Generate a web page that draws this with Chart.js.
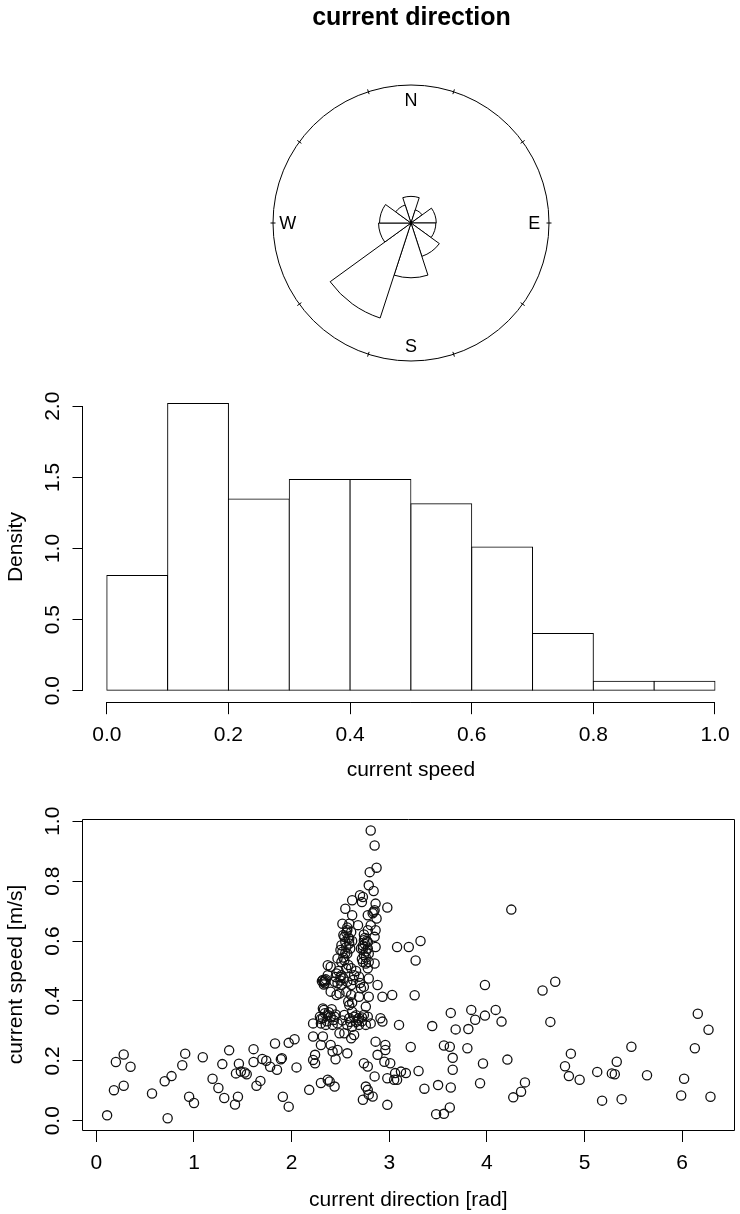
<!DOCTYPE html>
<html>
<head>
<meta charset="utf-8">
<title>current direction</title>
<script src="https://cdn.jsdelivr.net/npm/chart.js@4.4.0/dist/chart.umd.min.js"></script>
<style>
  html, body { margin: 0; padding: 0; background: #fff; }
  #page { position: relative; width: 740px; height: 1214px; }
  .panel { position: absolute; left: 0; width: 740px; }
</style>
</head>
<body>
<div id="page">
  <div class="panel" style="top:0;height:370px"><canvas id="rose"></canvas></div>
  <div class="panel" style="top:370px;height:420px"><canvas id="hist"></canvas></div>
  <div class="panel" style="top:790px;height:424px"><canvas id="scatter"></canvas></div>
</div>
<script>
// rose diagram: 10 sectors of 36deg, first one centred on north
const roseSectors = ['0°', '36°', '72°', '108°', '144°', '180°', '216°', '252°', '288°', '324°'];
const roseRadius = [0.193, 0.100, 0.183, 0.180, 0.254, 0.397, 0.724, 0.235, 0.228, 0.137]; // relative to outer circle
const roseTickAngles = [18, 54, 90, 126, 162, 198, 234, 270, 306, 342];
const compassLabels = ['N', 'E', 'S', 'W'];
const compassAngles = [0, 90, 180, 270];

// histogram of current speed
const speedBinMids = [0.05, 0.15, 0.25, 0.35, 0.45, 0.55, 0.65, 0.75, 0.85, 0.95];
const speedDensity = [0.81, 2.02, 1.347, 1.485, 1.485, 1.314, 1.01, 0.403, 0.067, 0.067];
const histXTicks = [0, 0.2, 0.4, 0.6, 0.8, 1.0];
const histYTicks = [0, 0.5, 1.0, 1.5, 2.0];

// scatter: direction [rad] vs speed [m/s]
const direction = [
  // low speeds, 0-2 rad
  0.11, 0.18, 0.20, 0.28, 0.28, 0.35, 0.57, 0.70, 0.73, 0.77,
  0.88, 0.91, 0.95, 1.00, 1.09, 1.19, 1.25, 1.29, 1.31, 1.36,
  1.43, 1.42, 1.45, 1.46, 1.48, 1.52, 1.54, 1.61, 1.61, 1.64,
  1.68, 1.70, 1.74, 1.78, 1.83, 1.85, 1.89, 1.90, 1.91, 1.97,
  1.97, 2.03, 2.05,
  // main cluster 2.2-3.3 rad
  2.81, 2.85, 2.80, 2.87, 2.79, 2.84, 2.70, 2.73, 2.62, 2.72,
  2.55, 2.86, 2.84, 2.85, 2.83, 2.98, 2.62, 2.78, 2.52, 2.59,
  2.68, 2.87, 2.57, 2.61, 2.81, 2.78, 2.86, 2.54, 2.59, 2.74,
  2.78, 2.85, 2.51, 2.56, 2.59, 2.73, 2.78, 2.52, 2.57, 2.74,
  2.79, 2.86, 3.08, 3.20, 3.32, 2.47, 2.51, 2.54, 2.73, 2.76,
  2.85, 3.27, 2.37, 2.40, 2.56, 2.61, 2.78, 2.37, 2.46, 2.51,
  2.64, 2.69, 2.79, 2.32, 2.33, 2.34, 2.44, 2.47, 2.51, 2.57,
  2.61, 2.71, 2.74, 2.88, 2.40, 2.46, 2.49, 2.56, 2.61, 2.69,
  2.79, 2.93, 3.03, 3.26, 2.59, 2.62, 2.76, 2.32, 2.34, 2.29,
  2.32, 2.37, 2.40, 2.44, 2.30, 2.35, 2.42, 2.47, 2.54, 2.59,
  2.64, 2.69, 2.74, 2.78, 2.57, 2.62, 2.69, 2.76, 2.81, 2.91,
  2.93, 3.10, 2.22, 2.49, 2.54, 2.61, 2.64, 2.22, 2.32, 2.30,
  2.40, 2.42, 2.47, 2.45, 2.57, 2.24, 2.22, 2.24, 2.86, 2.96,
  2.96, 2.88, 2.74, 2.78, 2.95, 3.01, 3.06, 3.12, 3.17, 2.98,
  3.05, 3.08, 2.85, 3.22, 2.76, 2.78, 2.79, 2.73, 2.83, 2.98,
  2.18, 2.30, 2.37, 2.39, 2.44, 3.30,
  2.53, 2.55, 2.50, 2.53, 2.75, 2.76, 2.72, 2.75, 2.31, 2.33,
  2.58, 2.63, 2.66, 2.70, 2.43, 2.36, 2.66, 2.72, 2.58, 2.50,
  // overlapping circles in the darkest parts of the cluster
  2.56, 2.58, 2.60, 2.55, 2.62, 2.57, 2.74, 2.77, 2.73, 2.76,
  2.71, 2.79, 2.48, 2.50, 2.53, 2.45, 2.34, 2.35, 2.33, 2.38,
  2.45, 2.41, 2.30, 2.68, 2.72, 2.66, 2.60, 2.52, 2.62,
  // 3.3-5 rad
  4.25, 3.98, 4.57, 4.70, 3.63, 3.84, 4.09, 3.98, 3.88, 4.15,
  4.65, 3.44, 3.68, 3.81, 3.56, 3.62, 3.80, 4.86, 3.65, 4.21,
  3.96, 4.80, 3.65, 4.84, 4.95, 3.36, 3.50, 3.63, 3.93, 4.39,
  4.35, 4.27, 3.62, 3.48, 3.56,
  // 5-6.3 rad
  6.16, 6.27, 5.48, 6.13, 5.33, 5.13, 5.28, 5.31, 5.64, 6.02,
  5.99, 6.29, 5.18, 5.38
];
const speed = [
  0.018, 0.102, 0.196, 0.221, 0.117, 0.180, 0.091, 0.132, 0.008, 0.149,
  0.185, 0.224, 0.080, 0.059, 0.212, 0.140, 0.109, 0.189, 0.076, 0.235,
  0.158, 0.054, 0.080, 0.190, 0.164, 0.161, 0.155, 0.239, 0.196, 0.117,
  0.133, 0.206, 0.200, 0.180, 0.258, 0.170, 0.205, 0.209, 0.080, 0.260,
  0.047, 0.272, 0.178,
  0.969, 0.919, 0.830, 0.845, 0.786, 0.767, 0.753, 0.747, 0.736, 0.730,
  0.708, 0.725, 0.698, 0.703, 0.693, 0.712, 0.686, 0.686, 0.658, 0.658,
  0.653, 0.675, 0.636, 0.630, 0.653, 0.636, 0.636, 0.614, 0.608, 0.603,
  0.597, 0.614, 0.586, 0.580, 0.592, 0.575, 0.575, 0.564, 0.558, 0.553,
  0.558, 0.580, 0.580, 0.580, 0.600, 0.542, 0.530, 0.536, 0.530, 0.525,
  0.525, 0.535, 0.519, 0.514, 0.509, 0.509, 0.509, 0.486, 0.492, 0.486,
  0.486, 0.481, 0.475, 0.470, 0.464, 0.459, 0.464, 0.459, 0.453, 0.464,
  0.453, 0.442, 0.447, 0.453, 0.431, 0.420, 0.425, 0.431, 0.420, 0.414,
  0.414, 0.414, 0.420, 0.419, 0.386, 0.364, 0.381, 0.375, 0.359, 0.347,
  0.342, 0.353, 0.347, 0.347, 0.325, 0.320, 0.320, 0.325, 0.353, 0.342,
  0.347, 0.342, 0.353, 0.347, 0.320, 0.314, 0.320, 0.320, 0.325, 0.342,
  0.331, 0.320, 0.325, 0.292, 0.292, 0.275, 0.286, 0.281, 0.281, 0.253,
  0.253, 0.231, 0.236, 0.205, 0.225, 0.220, 0.203, 0.192, 0.264, 0.253,
  0.236, 0.220, 0.192, 0.181, 0.197, 0.192, 0.159, 0.164, 0.159, 0.142,
  0.137, 0.137, 0.148, 0.246, 0.114, 0.103, 0.087, 0.070, 0.081, 0.053,
  0.103, 0.126, 0.137, 0.131, 0.114, 0.166,
  0.620, 0.598, 0.570, 0.545, 0.590, 0.565, 0.540, 0.610, 0.466, 0.455,
  0.520, 0.470, 0.500, 0.460, 0.336, 0.332, 0.330, 0.332, 0.398, 0.480,
  0.628, 0.612, 0.575, 0.560, 0.600, 0.645, 0.622, 0.600, 0.585, 0.545,
  0.575, 0.530, 0.500, 0.468, 0.476, 0.480, 0.468, 0.472, 0.370, 0.362,
  0.355, 0.372, 0.340, 0.335, 0.345, 0.352, 0.330, 0.335, 0.395,
  0.705, 0.453, 0.435, 0.464, 0.360, 0.370, 0.370, 0.351, 0.337, 0.331,
  0.330, 0.316, 0.305, 0.306, 0.251, 0.247, 0.242, 0.224, 0.210, 0.204,
  0.191, 0.182, 0.170, 0.149, 0.137, 0.107, 0.119, 0.111, 0.125, 0.128,
  0.097, 0.078, 0.044, 0.022, 0.023,
  0.357, 0.304, 0.247, 0.242, 0.197, 0.163, 0.158, 0.155, 0.152, 0.140,
  0.084, 0.080, 0.067, 0.072
];
const dirTicks = [0, 1, 2, 3, 4, 5, 6];
const speedTicks = [0, 0.2, 0.4, 0.6, 0.8, 1.0];

Chart.defaults.font.family = "'Liberation Sans', Arial, Helvetica, sans-serif";
Chart.defaults.color = '#000';

const FS = 21;
const al = v => Math.round(v - 0.5) + 0.5;

// ticks on the outer circle + compass letters
const roseMarks = {
  id: 'roseMarks',
  afterDatasetsDraw(chart) {
    const s = chart.scales.r, ctx = chart.ctx;
    const cx = s.xCenter, cy = s.yCenter, R = s.drawingArea;
    ctx.save();
    ctx.strokeStyle = '#000';
    ctx.lineWidth = 1;
    roseTickAngles.forEach(a => {
      const t = (a - 90) * Math.PI / 180;
      ctx.beginPath();
      ctx.moveTo(cx + Math.cos(t) * (R - 2.5), cy + Math.sin(t) * (R - 2.5));
      ctx.lineTo(cx + Math.cos(t) * (R + 2.5), cy + Math.sin(t) * (R + 2.5));
      ctx.stroke();
    });
    ctx.fillStyle = '#000';
    ctx.font = "18px 'Liberation Sans', Arial, sans-serif";
    ctx.textAlign = 'center';
    ctx.textBaseline = 'middle';
    compassLabels.forEach((l, i) => {
      const t = (compassAngles[i] - 90) * Math.PI / 180;
      ctx.fillText(l, cx + Math.cos(t) * R * 0.893, cy + Math.sin(t) * R * 0.893 + 1);
    });
    ctx.restore();
  }
};

// R-style axes: line only from first to last tick, optional box
const rAxes = {
  id: 'rAxes',
  afterDraw(chart, args, opts) {
    const {ctx, chartArea: a, scales: {x, y}} = chart;
    const xt = x.ticks, yt = y.ticks;
    ctx.save();
    ctx.strokeStyle = '#000';
    ctx.lineWidth = 1;
    ctx.beginPath();
    ctx.moveTo(x.getPixelForValue(xt[0].value), al(a.bottom));
    ctx.lineTo(x.getPixelForValue(xt[xt.length - 1].value), al(a.bottom));
    ctx.moveTo(al(a.left), y.getPixelForValue(yt[0].value));
    ctx.lineTo(al(a.left), y.getPixelForValue(yt[yt.length - 1].value));
    if (opts.box) {
      ctx.rect(al(a.left), al(a.top), al(a.right) - al(a.left), al(a.bottom) - al(a.top));
    }
    ctx.stroke();
    ctx.restore();
  }
};

function xAxis(min, max, ticks, fmt, label, height, tickPad, titlePad) {
  return {
    type: 'linear', min: min, max: max, offset: false,
    afterBuildTicks: s => { s.ticks = ticks.map(v => ({value: v})); },
    afterFit: s => { s.height = height; },
    ticks: { callback: fmt, autoSkip: false, maxRotation: 0, padding: tickPad, font: {size: FS}, color: '#000' },
    grid: { drawOnChartArea: false, offset: false, tickLength: 12, color: '#000', lineWidth: 1 },
    border: { display: false },
    title: { display: true, text: label, font: {size: FS}, color: '#000', padding: {top: 0, bottom: titlePad} }
  };
}

function yAxis(min, max, ticks, label) {
  return {
    type: 'linear', min: min, max: max,
    afterBuildTicks: s => { s.ticks = ticks.map(v => ({value: v})); },
    afterFit: s => { s.width = 82.5; },
    ticks: { callback: v => v.toFixed(1), autoSkip: false, minRotation: 90, maxRotation: 90, crossAlign: 'center', padding: 5, font: {size: FS}, color: '#000' },
    grid: { drawOnChartArea: false, tickLength: 10, color: '#000', lineWidth: 1 },
    border: { display: false },
    title: { display: true, text: label, font: {size: FS}, color: '#000', padding: {top: 4, bottom: 0} }
  };
}

new Chart(document.getElementById('rose'), {
  type: 'polarArea',
  data: {
    labels: roseSectors,
    datasets: [{ data: roseRadius, backgroundColor: '#fff', borderColor: '#000', borderWidth: 1 }]
  },
  options: {
    responsive: true,
    maintainAspectRatio: false,
    animation: false,
    layout: { padding: { left: 273, right: 190, top: 0, bottom: 8 } },
    plugins: {
      legend: { display: false },
      tooltip: { enabled: false },
      title: {
        display: true, text: 'current direction', color: '#000',
        font: { size: 25, weight: 'bold' }, padding: { top: 3, bottom: 52 }
      }
    },
    scales: {
      r: {
        min: 0, max: 1, startAngle: -18,
        ticks: { display: false, stepSize: 1 },
        grid: { color: '#000', lineWidth: 1, circular: true },
        angleLines: { display: false },
        pointLabels: { display: false }
      }
    }
  },
  plugins: [roseMarks]
});

new Chart(document.getElementById('hist'), {
  type: 'bar',
  data: {
    datasets: [{
      data: speedBinMids.map((m, i) => ({x: m, y: speedDensity[i]})),
      backgroundColor: '#fff',
      borderColor: '#000',
      borderSkipped: false,
      borderWidth: 1,
      inflateAmount: 0.5, // 1px outline centred on the bin edges, shared by neighbours
      barPercentage: 1,
      categoryPercentage: 1
    }]
  },
  options: {
    responsive: true,
    maintainAspectRatio: false,
    animation: false,
    layout: { padding: { left: 0, right: 0.7, top: 22, bottom: 0 } },
    plugins: { legend: { display: false }, tooltip: { enabled: false }, rAxes: { box: false } },
    scales: {
      x: xAxis(-0.04, 1.04, histXTicks, v => v.toFixed(1), 'current speed', 87.8, 8, 7.4),
      y: yAxis(-0.0808, 2.10, histYTicks, 'Density')
    }
  },
  plugins: [rAxes]
});

new Chart(document.getElementById('scatter'), {
  type: 'scatter',
  data: {
    datasets: [{
      data: direction.map((d, i) => ({x: d, y: speed[i]})),
      pointStyle: 'circle',
      pointRadius: 4.6,
      pointBorderWidth: 1.3,
      pointBorderColor: '#111',
      pointBackgroundColor: 'rgba(0,0,0,0)'
    }]
  },
  options: {
    responsive: true,
    maintainAspectRatio: false,
    animation: false,
    layout: { padding: { left: 0, right: 0.5, top: 29, bottom: 0 } },
    plugins: { legend: { display: false }, tooltip: { enabled: false }, rAxes: { box: true } },
    scales: {
      x: xAxis(-0.142, 6.532, dirTicks, v => String(v), 'current direction [rad]', 84, 8.4, 1.4),
      y: yAxis(-0.031, 1.0075, speedTicks, 'current speed [m/s]')
    }
  },
  plugins: [rAxes]
});
</script>
</body>
</html>
